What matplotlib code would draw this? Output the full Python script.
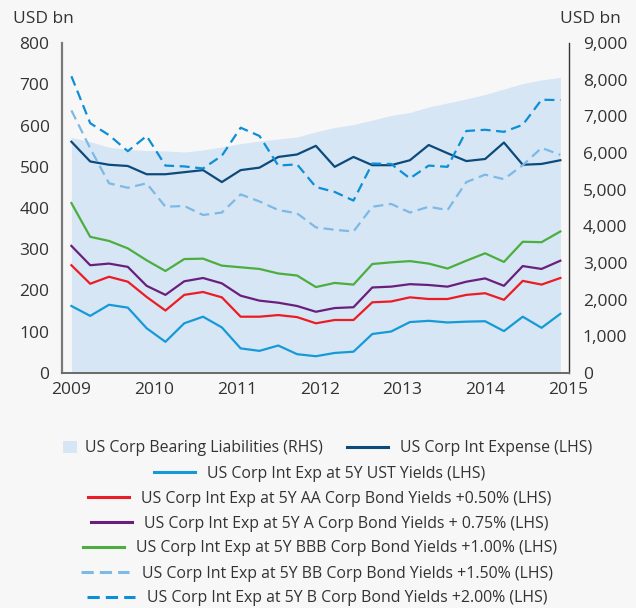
import numpy as np
import matplotlib
matplotlib.use("Agg")
from matplotlib import pyplot as plt
from matplotlib.lines import Line2D
from matplotlib.patches import Patch

# Quarterly observations, 2009 Q1 onwards (27 points)
quarters = np.arange(27)
year_labels = ["2009", "2010", "2011", "2012", "2013", "2014", "2015"]

# RHS: bearing liabilities (USD bn)
bearing_liabilities = [6430, 6310, 6160, 6100, 6070, 6060, 6030, 6085, 6170, 6260,
                       6330, 6385, 6440, 6580, 6700, 6780, 6900, 7030, 7110, 7260,
                       7370, 7480, 7600, 7750, 7900, 8000, 8070]

# LHS series (USD bn)
int_expense = [561, 513, 505, 502, 482, 482, 487, 492, 463, 492, 498, 524, 530, 551,
               500, 524, 504, 504, 516, 553, 533, 514, 519, 559, 505, 507, 516]
ust_yields = [162, 138, 165, 158, 108, 75, 120, 136, 110, 59, 53, 66, 45, 40,
              48, 51, 94, 100, 123, 126, 122, 124, 125, 101, 136, 109, 143]
aa_yields = [261, 216, 233, 221, 184, 151, 189, 196, 183, 136, 136, 140, 135, 120,
             128, 128, 171, 173, 183, 179, 179, 189, 193, 177, 223, 214, 230]
a_yields = [308, 261, 265, 257, 211, 189, 222, 230, 217, 187, 175, 170, 162, 148,
            157, 159, 207, 209, 215, 213, 209, 221, 229, 211, 259, 252, 272]
bbb_yields = [412, 330, 320, 302, 273, 247, 276, 277, 260, 256, 252, 241, 236, 208,
              218, 214, 264, 268, 271, 265, 253, 272, 290, 269, 318, 317, 343]
bb_yields = [637, 545, 460, 449, 460, 403, 405, 383, 389, 433, 416, 395, 387, 353,
             347, 343, 403, 410, 389, 403, 395, 463, 481, 470, 504, 546, 529]
b_yields = [720, 606, 577, 538, 575, 503, 501, 496, 527, 595, 575, 503, 506, 451,
            439, 418, 508, 507, 472, 503, 500, 587, 590, 585, 602, 663, 662]

bg = "#f7f7f7"
area_color = "#d6e6f4"
text_color = "#333333"

plt.rcParams['font.family'] = ['Open Sans', 'DejaVu Sans']

fig = plt.figure(figsize=(6.36, 6.08), dpi=100, facecolor=bg)
ax = fig.add_axes([62 / 636, 1 - 372.7 / 608, (569 - 62) / 636, (372.7 - 43.3) / 608])
ax2 = ax.twinx()

# Area on the right axis, kept behind the lines
ax2.fill_between(quarters, 0, bearing_liabilities, color=area_color, linewidth=0)
ax.set_zorder(ax2.get_zorder() + 1)
ax.patch.set_visible(False)
ax2.patch.set_facecolor(bg)

lw = 1.6
ax.plot(quarters, int_expense, color="#0d4a7c", linewidth=lw)
ax.plot(quarters, ust_yields, color="#159ad7", linewidth=lw)
ax.plot(quarters, aa_yields, color="#ec1c24", linewidth=lw)
ax.plot(quarters, a_yields, color="#6b1f7c", linewidth=lw)
ax.plot(quarters, bbb_yields, color="#4cae3f", linewidth=lw)
ax.plot(quarters, bb_yields, color="#7db9e6", linewidth=lw, dashes=(4.5, 2.5))
ax.plot(quarters, b_yields, color="#0d8fd6", linewidth=lw, dashes=(4.5, 2.5))

# Axes limits and ticks
ax.set_xlim(-0.5, 26.46)
ax.set_ylim(0, 800)
ax2.set_ylim(0, 9000)
ax.set_xticks(np.arange(len(year_labels)) * 4.4)
ax.set_xticklabels(year_labels)
ax.set_yticks(np.arange(0, 801, 100))
ax2.set_yticks(np.arange(0, 9001, 1000))
ax2.set_yticklabels([f"{v:,}" for v in range(0, 9001, 1000)])

for a in (ax, ax2):
    a.tick_params(length=0, labelsize=12.5, colors=text_color)
    a.spines["top"].set_visible(False)
ax.tick_params(axis="y", pad=9)
ax.tick_params(axis="x", pad=7)
ax2.tick_params(axis="y", pad=10)
ax.spines["left"].set_color("#7a7a7a")
ax.spines["left"].set_linewidth(1.6)
ax.spines["bottom"].set_color("#6a6a6a")
ax.spines["bottom"].set_linewidth(1.4)
ax.spines["right"].set_visible(False)
ax2.spines["left"].set_visible(False)
ax2.spines["bottom"].set_visible(False)
ax2.spines["right"].set_color("#333333")
ax2.spines["right"].set_linewidth(1.0)

fig.text(13 / 636, 1 - 19 / 608, "USD bn", fontsize=12.5, color=text_color, va="center", ha="left")
fig.text(621 / 636, 1 - 19 / 608, "USD bn", fontsize=12.5, color=text_color, va="center", ha="right")

# Legend rows, one legend per row so each can be placed like the original
leg_size = 11.4
dash_handle = (4, 2)
# (handle, label, x anchor in px, anchor side, y in px, handle length)
entries = [
    (Patch(facecolor=area_color, edgecolor="none"), "US Corp Bearing Liabilities (RHS)", 62.7, "center left", 448.5, 0.88),
    (Line2D([], [], color="#0d4a7c", linewidth=2.2), "US Corp Int Expense (LHS)", 346.7, "center left", 448.5, 2.59),
    (Line2D([], [], color="#159ad7", linewidth=2.2), "US Corp Int Exp at 5Y UST Yields (LHS)", 320, "center", 474, 2.59),
    (Line2D([], [], color="#ec1c24", linewidth=2.2), "US Corp Int Exp at 5Y AA Corp Bond Yields +0.50% (LHS)", 320, "center", 499, 2.59),
    (Line2D([], [], color="#6b1f7c", linewidth=2.2), "US Corp Int Exp at 5Y A Corp Bond Yields + 0.75% (LHS)", 320, "center", 523.5, 2.59),
    (Line2D([], [], color="#4cae3f", linewidth=2.2), "US Corp Int Exp at 5Y BBB Corp Bond Yields +1.00% (LHS)", 320, "center", 548.5, 2.59),
    (Line2D([], [], color="#7db9e6", linewidth=2.2, dashes=dash_handle), "US Corp Int Exp at 5Y BB Corp Bond Yields +1.50% (LHS)", 317, "center", 573.5, 3.03),
    (Line2D([], [], color="#0d8fd6", linewidth=2.2, dashes=dash_handle), "US Corp Int Exp at 5Y B Corp Bond Yields +2.00% (LHS)", 317, "center", 598.5, 3.03),
]
for handle, label, x, loc, y, hlen in entries:
    is_patch = isinstance(handle, Patch)
    leg = fig.legend([handle], [label], loc=loc, bbox_to_anchor=(x / 636, 1 - y / 608),
                     frameon=False, handlelength=hlen, handleheight=0.82 if is_patch else 0.7,
                     handletextpad=0.52 if is_patch else 0.77, borderpad=0, borderaxespad=0,
                     prop={"size": leg_size})
    for t in leg.get_texts():
        t.set_color(text_color)

fig.savefig("out.png", dpi=100, facecolor=bg)
